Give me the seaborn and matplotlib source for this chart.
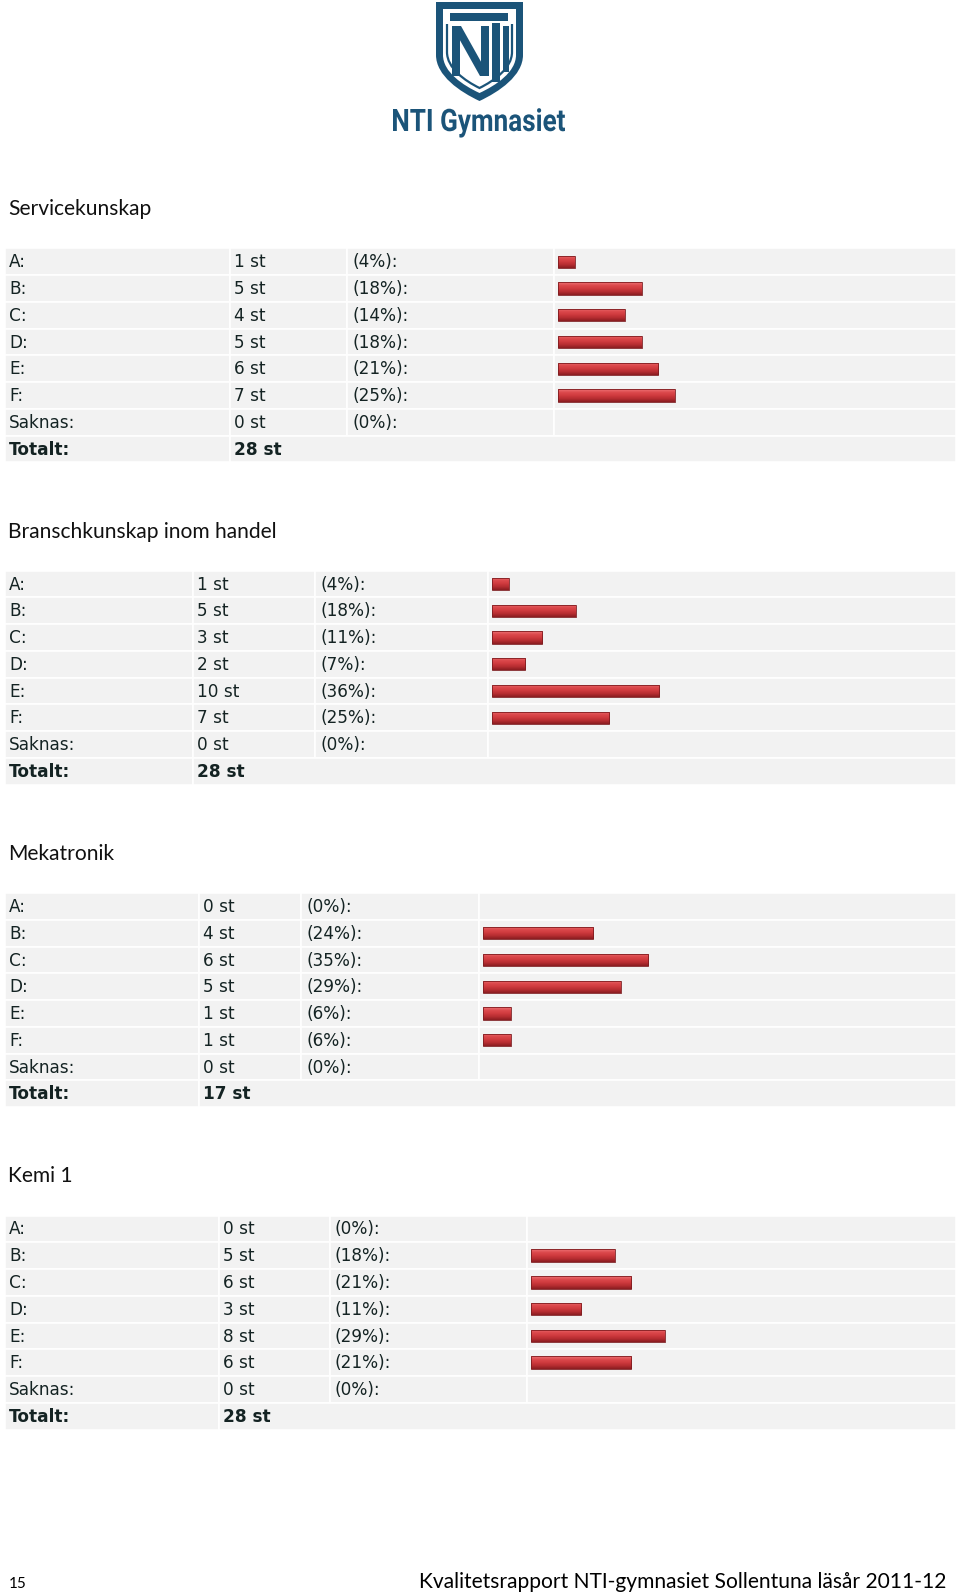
import numpy as np
import pandas as pd
import matplotlib
matplotlib.use("Agg")
import matplotlib.pyplot as plt
import seaborn as sns
from matplotlib.patches import Rectangle, PathPatch, Polygon
from matplotlib.path import Path
from matplotlib.textpath import TextPath
from matplotlib.font_manager import FontProperties
from matplotlib.transforms import Affine2D
from matplotlib.colors import LinearSegmentedColormap

# ---------------- data ----------------
categories = ["A:", "B:", "C:", "D:", "E:", "F:", "Saknas:"]
titles = ["Servicekunskap", "Branschkunskap inom handel", "Mekatronik", "Kemi 1"]
servicekunskap = [1, 5, 4, 5, 6, 7, 0]
servicekunskap_pct = [4, 18, 14, 18, 21, 25, 0]
branschkunskap = [1, 5, 3, 2, 10, 7, 0]
branschkunskap_pct = [4, 18, 11, 7, 36, 25, 0]
mekatronik = [0, 4, 6, 5, 1, 1, 0]
mekatronik_pct = [0, 24, 35, 29, 6, 6, 0]
kemi = [0, 5, 6, 3, 8, 6, 0]
kemi_pct = [0, 18, 21, 11, 29, 21, 0]
totals = [28, 28, 17, 28]
total_label = "Totalt:"
unit = "st"
footer_page = "15"
footer_text = "Kvalitetsrapport NTI-gymnasiet Sollentuna läsår 2011-12"
logo_text = "NTI Gymnasiet"

counts_all = [servicekunskap, branschkunskap, mekatronik, kemi]
pcts_all = [servicekunskap_pct, branschkunskap_pct, mekatronik_pct, kemi_pct]

# ---------------- style ----------------
sns.set_style("white")
plt.rcParams["font.family"] = ["DejaVu Sans"]

W, H = 960, 1595
fig = plt.figure(figsize=(9.6, 15.95), dpi=100)
fig.patch.set_facecolor("white")
bg = fig.add_axes([0, 0, 1, 1])
bg.set_xlim(0, W)
bg.set_ylim(H, 0)
bg.axis("off")
renderer = fig.canvas.get_renderer()


def fig_rect(x0, y0, x1, y1):
    return [x0 / W, 1 - y1 / H, (x1 - x0) / W, (y1 - y0) / H]


def fit_text(x, y, s, target_w, base=20, **kw):
    t = bg.text(x, y, s, fontsize=base, **kw)
    w = t.get_window_extent(renderer=renderer).width
    t.set_fontsize(base * target_w / w)
    return t


BLUE = "#1b5479"
CELL = "#f2f2f2"
TXT = "#142323"
col_lefts = [(5, 230, 347, 554), (5, 193, 315, 488), (5, 199, 301, 479), (5, 219, 330, 527)]
RIGHT = 956
ROW_H = 26.75
TOP0 = 248.3
SEC_STEP = 322.4
BAR_FULL = 468  # px for 100 %
TABLE_FS = 12.2

cmap = LinearSegmentedColormap.from_list(
    "barred", ["#ee7477", "#dc4a4d", "#cf3a3e", "#b52d31", "#8a1c20"])
grad = np.linspace(0, 1, 64).reshape(-1, 1)

# title font size (fit reference width of first title)
tmp = fit_text(8, 0, titles[0], 144, family=["Lato", "DejaVu Sans"])
TITLE_FS = tmp.get_fontsize()
tmp.remove()

for i, title in enumerate(titles):
    top = TOP0 + i * SEC_STEP
    c0, c1, c2, c3 = col_lefts[i]
    counts = counts_all[i]
    pcts = pcts_all[i]
    total = totals[i]

    bg.text(8, top - 33, title, fontsize=TITLE_FS, family=["Lato", "DejaVu Sans"],
            color="#111111", va="baseline", ha="left")

    for r in range(8):
        y0 = top + r * ROW_H
        edges = [c0, c1, c2, c3, RIGHT] if r < 7 else [c0, c1, RIGHT]
        for xa, xb in zip(edges[:-1], edges[1:]):
            bg.add_patch(Rectangle((xa, y0), xb - xa, ROW_H, facecolor=CELL,
                                   edgecolor="white", linewidth=1.2))
        yb = y0 + 19
        if r < 7:
            bg.text(c0 + 4, yb, categories[r], fontsize=TABLE_FS, color=TXT, va="baseline")
            bg.text(c1 + 4, yb, f"{counts[r]} {unit}", fontsize=TABLE_FS, color=TXT, va="baseline")
            bg.text(c2 + 5, yb, f"({pcts[r]}%):", fontsize=TABLE_FS, color=TXT, va="baseline")
        else:
            bg.text(c0 + 4, yb, total_label, fontsize=TABLE_FS, color=TXT, va="baseline",
                    fontweight="bold")
            bg.text(c1 + 4, yb, f"{total} {unit}", fontsize=TABLE_FS, color=TXT, va="baseline",
                    fontweight="bold")

    # bars
    bx0 = c3 + 4
    ax = fig.add_axes(fig_rect(bx0, top, bx0 + BAR_FULL, top + 7 * ROW_H))
    df = pd.DataFrame({"cat": categories, "pct": [n / total * 100 for n in counts]})
    sns.barplot(data=df, x="pct", y="cat", orient="h", width=0.46, color="#cf3a3e",
                saturation=1, edgecolor="#7e1c1f", linewidth=0.6, ax=ax)
    for p in list(ax.patches):
        if p.get_width() <= 0:
            p.set_visible(False)
            continue
        x, y, w, h = p.get_x(), p.get_y(), p.get_width(), p.get_height()
        p.set_facecolor("none")
        p.set_zorder(4)
        im = ax.imshow(grad, extent=(x, x + w, y + h, y), aspect="auto", cmap=cmap,
                       origin="upper", zorder=3, interpolation="bilinear")
        im.set_clip_path(p)
    ax.set_xlim(0, 100)
    ax.set_ylim(6.5, -0.5)
    ax.axis("off")
    ax.patch.set_alpha(0)

# ---------------- logo ----------------
def shield_path(l, r, top, sb, tip, closed=True):
    cx = (l + r) / 2
    hw = (r - cx)
    d = tip - sb
    if closed:
        verts = [(l, top), (r, top), (r, sb),
                 (r, sb + 0.45 * d), (cx + 0.45 * hw, tip - 0.2 * d), (cx, tip),
                 (cx - 0.45 * hw, tip - 0.2 * d), (l, sb + 0.45 * d), (l, sb),
                 (l, top)]
        codes = [Path.MOVETO, Path.LINETO, Path.LINETO,
                 Path.CURVE4, Path.CURVE4, Path.CURVE4,
                 Path.CURVE4, Path.CURVE4, Path.CURVE4,
                 Path.CLOSEPOLY]
    else:
        verts = [(l, top), (l, sb),
                 (l, sb + 0.45 * d), (cx - 0.45 * hw, tip - 0.2 * d), (cx, tip),
                 (cx + 0.45 * hw, tip - 0.2 * d), (r, sb + 0.45 * d), (r, sb),
                 (r, top)]
        codes = [Path.MOVETO, Path.LINETO,
                 Path.CURVE4, Path.CURVE4, Path.CURVE4,
                 Path.CURVE4, Path.CURVE4, Path.CURVE4,
                 Path.LINETO]
    return Path(verts, codes)

bg.add_patch(PathPatch(shield_path(436, 523, 2, 55, 101), facecolor=BLUE, edgecolor="none"))
bg.add_patch(PathPatch(shield_path(443, 516, 9, 55, 93), facecolor="white", edgecolor="none"))
bg.add_patch(PathPatch(shield_path(447, 512, 24, 52, 88, closed=False), facecolor="none",
                       edgecolor=BLUE, linewidth=1.6))
# T crossbar
bg.add_patch(Rectangle((450, 13), 58, 8, facecolor=BLUE, edgecolor="none"))
# N
bg.add_patch(Rectangle((452, 26), 8, 50, facecolor=BLUE, edgecolor="none"))
bg.add_patch(Polygon([(452, 26), (461, 26), (489, 76), (480, 76)], closed=True,
                     facecolor=BLUE, edgecolor="none"))
bg.add_patch(Rectangle((481, 26), 8, 50, facecolor=BLUE, edgecolor="none"))
# T stem and I
bg.add_patch(Rectangle((492, 23), 8, 59, facecolor=BLUE, edgecolor="none"))
bg.add_patch(Rectangle((503, 26), 6, 46, facecolor=BLUE, edgecolor="none"))

prop = FontProperties(family="Roboto", weight="bold")
tp = TextPath((0, 0), logo_text, size=100, prop=prop)
bb = tp.get_extents()
capH = TextPath((0, 0), "N", size=100, prop=prop).get_extents().height
sx = 172 / bb.width
sy = 22 / capH
tr = Affine2D().translate(-bb.x0, 0).scale(sx, -sy).translate(393, 131)
bg.add_patch(PathPatch(tr.transform_path(tp), facecolor=BLUE, edgecolor="none"))

# ---------------- footer ----------------
bg.text(9, 1588, footer_page, fontsize=11, family=["Lato", "DejaVu Sans"], color="black",
        va="baseline", ha="left")
fit_text(946, 1588, footer_text, 528, family=["Lato", "DejaVu Sans"], color="black",
         va="baseline", ha="right")

fig.savefig("out.png", dpi=100, facecolor="white")
